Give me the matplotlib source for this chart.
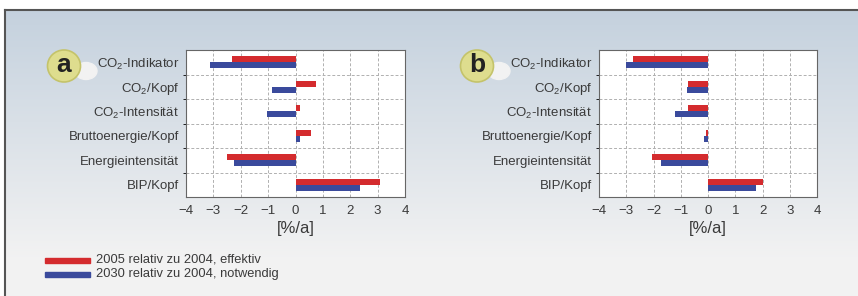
import numpy as np
import matplotlib.pyplot as plt
from matplotlib.patches import Rectangle, Ellipse

plt.rcParams['font.family'] = ['Liberation Sans', 'DejaVu Sans']
plt.rcParams['mathtext.fontset'] = 'custom'
plt.rcParams['mathtext.rm'] = 'Liberation Sans'
plt.rcParams['mathtext.it'] = 'Liberation Sans'
plt.rcParams['axes.unicode_minus'] = True

# data
categories = ['CO$_2$-Indikator', 'CO$_2$/Kopf', 'CO$_2$-Intensität',
              'Bruttoenergie/Kopf', 'Energieintensität', 'BIP/Kopf']
a_2005 = [-2.31, 0.75, 0.15, 0.56, -2.52, 3.08]
a_2030 = [-3.13, -0.85, -1.03, 0.16, -2.25, 2.34]
b_2005 = [-2.75, -0.72, -0.75, -0.06, -2.07, 2.03]
b_2030 = [-3.00, -0.78, -1.22, -0.15, -1.74, 1.75]
series_labels = ['2005 relativ zu 2004, effektiv',
                 '2030 relativ zu 2004, notwendig']
panel_letters = ['a', 'b']
xticks = [-4, -3, -2, -1, 0, 1, 2, 3, 4]

red = '#d42b2e'
blue = '#3a4a9c'
txt = '#3a3a3a'

W, H = 858, 296
fig = plt.figure(figsize=(W / 100, H / 100), dpi=100)
fig.patch.set_facecolor('white')

# background gradient inside the frame
bg = fig.add_axes([5 / W, 0, 1 - 5 / W, (H - 10) / H], zorder=0)
grad = np.linspace(0, 1, 256).reshape(-1, 1)
top = np.array([0.77, 0.82, 0.87])
bot = np.array([0.95, 0.95, 0.95])
img = top + (bot - top) * np.clip(grad * 1.15, 0, 1)[:, :, None]
bg.imshow(img, aspect='auto', extent=[0, 1, 0, 1], origin='upper')
bg.set_xlim(0, 1)
bg.set_ylim(0, 1)
bg.axis('off')
fig.add_artist(plt.Line2D([5 / W, 1], [(H - 10) / H] * 2, color='#555555', lw=1.5))
fig.add_artist(plt.Line2D([5 / W] * 2, [0, (H - 10) / H], color='#555555', lw=1.5))


def panel(left, right, v05, v30, letter, bx):
    ax = fig.add_axes([left / W, 1 - 197 / H, (right - left) / W, 147 / H], zorder=2)
    ax.set_facecolor('white')
    y = np.arange(len(categories))
    h = 0.24
    ax.barh(y - h / 2, v05, height=h, color=red, zorder=3)
    ax.barh(y + h / 2, v30, height=h, color=blue, zorder=3)
    ax.set_ylim(len(categories) - 0.5, -0.5)
    ax.set_xlim(-4, 4)
    ax.set_xticks(xticks)
    ax.set_yticks(y)
    ax.set_yticklabels(categories, fontsize=9.5, color=txt)
    ax.set_yticks(np.arange(len(categories) - 1) + 0.5, minor=True)
    ax.tick_params(axis='both', length=0, colors=txt, labelsize=9.5)
    ax.tick_params(axis='y', pad=5)
    ax.tick_params(axis='x', pad=6)
    ax.grid(axis='x', which='major', ls=(0, (3, 2)), color='#b0b0b0', lw=0.7, zorder=1)
    ax.grid(axis='y', which='minor', ls=(0, (3, 2)), color='#b0b0b0', lw=0.7, zorder=1)
    for s in ax.spines.values():
        s.set_color('#666666')
        s.set_linewidth(0.8)
    ax.set_xlabel('[%/a]', fontsize=12, color=txt, labelpad=3)

    # letter badge
    cx, cy = bx, H - 66
    fig.add_artist(Ellipse(((cx + 22) / W, (cy - 5) / H), 22 / W, 17 / H,
                           color='#f2f2f2', zorder=3))
    fig.add_artist(Ellipse((cx / W, cy / H), 33 / W, 32 / H, facecolor='#dedd8e',
                           edgecolor='#c4c36a', lw=1.2, zorder=4))
    fig.text(cx / W, (cy + 1) / H, letter, fontsize=19, fontweight='bold', color='#222222',
             ha='center', va='center', zorder=5)
    return ax


panel(186, 405, a_2005, a_2030, panel_letters[0], 64)
panel(599, 817, b_2005, b_2030, panel_letters[1], 477)

# legend
for i, (lab, col) in enumerate(zip(series_labels, [red, blue])):
    yc = H - 260 - i * 14
    fig.add_artist(Rectangle((45 / W, (yc - 2.5) / H), 45 / W, 5 / H, color=col, zorder=3))
    fig.text(96 / W, yc / H, lab, fontsize=9.3, color=txt, va='center', zorder=3)

fig.savefig('out.png', dpi=100)
